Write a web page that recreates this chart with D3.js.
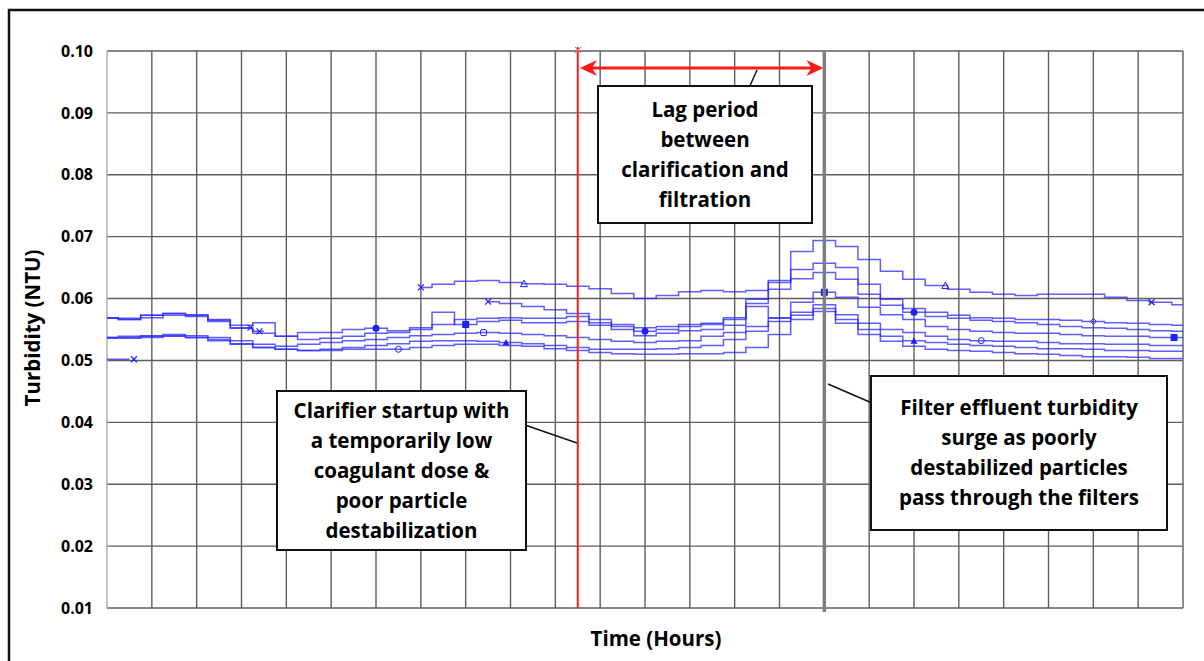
<!DOCTYPE html>
<html>
<head>
<meta charset="utf-8">
<script src="https://cdn.jsdelivr.net/npm/d3@7"></script>
<style>
body{margin:0;background:#fff;}
text{font-family:"Open Sans",Lato,sans-serif;font-weight:bold;fill:#000;}
</style>
</head>
<body>
<svg id="chart" width="1204" height="661"></svg>
<script>
// hours 0..24 every half hour
hours=d3.range(0,24.5,0.5)
yTicks=[0.01,0.02,0.03,0.04,0.05,0.06,0.07,0.08,0.09,0.10]
xGrid=d3.range(0,25,1)

s1=[0.0502,0.0502,null,null,null,null,null,null,null,null,null,null,null,null,
  0.0618,0.0623,0.0628,0.0629,0.0626,0.0624,0.0623,0.0620,0.0616,0.0608,0.0600,0.0605,0.0611,0.0613,0.0611,0.0613,
  0.0629,0.0676,0.0694,0.0684,0.0663,0.0644,0.0631,0.0621,0.0615,0.0610,0.0607,0.0605,0.0607,0.0607,0.0607,0.0602,0.0597,0.0594,0.0590]
s2=[0.0569,0.0566,0.0573,0.0576,0.0573,0.0565,0.0553,0.0547,null,null,null,null,null,null,null,null,null,
  0.0595,0.0592,0.0587,0.0582,0.0576,0.0566,0.0558,0.0553,0.0555,0.0558,0.0560,0.0566,0.0599,0.0626,0.0647,
  0.0657,0.0650,0.0623,0.0599,0.0584,0.0578,0.0573,0.0569,0.0568,0.0566,0.0566,0.0565,0.0563,0.0561,0.0560,0.0558,0.0557]
s3=[0.0569,0.0566,0.0573,0.0576,0.0574,0.0566,0.0557,0.0561,0.0539,0.0545,0.0545,0.0550,0.0552,0.0548,0.0553,0.0558,
  0.0566,0.0568,0.0569,0.0568,0.0568,0.0571,0.0561,0.0555,0.0547,0.0550,0.0555,0.0558,0.0569,0.0592,0.0615,0.0632,
  0.0642,0.0631,0.0607,0.0589,0.0578,0.0571,0.0568,0.0565,0.0563,0.0561,0.0558,0.0555,0.0553,0.0552,0.0550,0.0548,0.0547]
s4=[0.0568,0.0568,0.0569,0.0573,0.0571,0.0563,0.0552,0.0544,0.0539,0.0534,0.0536,0.0539,0.0544,0.0545,0.0550,0.0578,
  0.0558,0.0563,0.0565,0.0561,0.0561,0.0563,0.0557,0.0550,0.0540,0.0544,0.0548,0.0550,0.0557,0.0587,0.0569,0.0594,
  0.0610,0.0602,0.0586,0.0574,0.0566,0.0555,0.0550,0.0547,0.0545,0.0544,0.0544,0.0542,0.0540,0.0539,0.0539,0.0537,0.0537]
s5=[0.0537,0.0539,0.0540,0.0542,0.0540,0.0537,0.0532,0.0526,0.0523,0.0526,0.0529,0.0532,0.0534,0.0537,0.0540,0.0542,
  0.0544,0.0545,0.0544,0.0542,0.0540,0.0537,0.0534,0.0531,0.0529,0.0531,0.0532,0.0539,0.0545,0.0555,0.0568,0.0578,
  0.0590,0.0574,0.0560,0.0550,0.0545,0.0539,0.0534,0.0532,0.0531,0.0531,0.0529,0.0527,0.0527,0.0526,0.0526,0.0524,0.0524]
s6=[0.0537,0.0537,0.0539,0.0540,0.0537,0.0534,0.0527,0.0521,0.0518,0.0516,0.0518,0.0521,0.0524,0.0527,0.0531,0.0532,
  0.0532,0.0531,0.0529,0.0527,0.0524,0.0521,0.0518,0.0518,0.0518,0.0519,0.0521,0.0524,0.0534,0.0547,0.0563,0.0573,
  0.0584,0.0566,0.0550,0.0539,0.0532,0.0529,0.0526,0.0524,0.0523,0.0521,0.0519,0.0519,0.0518,0.0516,0.0516,0.0515,0.0515]
s7=[0.0536,0.0536,0.0537,0.0539,0.0537,0.0532,0.0526,0.0521,0.0518,0.0516,0.0516,0.0518,0.0518,0.0518,0.0521,0.0524,
  0.0526,0.0526,0.0524,0.0523,0.0519,0.0516,0.0513,0.0511,0.0510,0.0510,0.0511,0.0511,0.0513,0.0521,0.0542,0.0566,
  0.0579,0.0560,0.0542,0.0531,0.0523,0.0518,0.0516,0.0515,0.0513,0.0511,0.0510,0.0508,0.0506,0.0506,0.0505,0.0503,0.0503]
series=[s1,s2,s3,s4,s5,s6,s7]

// markers: series index, hour, shape
markers=[
  {s:0,h:0.6,m:"x"},{s:0,h:7,m:"x"},{s:0,h:9.3,m:"tri"},{s:0,h:18.7,m:"tri"},{s:0,h:23.3,m:"x"},
  {s:1,h:3.2,m:"x"},{s:1,h:3.4,m:"x"},{s:1,h:8.5,m:"x"},{s:1,h:22,m:"diam"},
  {s:2,h:6,m:"dot"},{s:2,h:12,m:"dot"},{s:2,h:18,m:"dot"},
  {s:3,h:8,m:"sq"},{s:3,h:16,m:"sq"},{s:3,h:23.8,m:"sq"},
  {s:4,h:8.4,m:"osq"},{s:4,h:19.5,m:"circ"},
  {s:5,h:8.9,m:"ftri"},{s:5,h:18,m:"ftri"},
  {s:6,h:6.5,m:"circ"}
]

var svg=d3.select("#chart")
var plotL=107,plotR=1183,plotT=51,plotB=608
var x=d3.scaleLinear().domain([0,24]).range([plotL,plotR])
var y=d3.scaleLinear().domain([0.01,0.10]).range([plotB,plotT])

// outer frame
svg.append("path").attr("d","M9,661 L9,10 L1204,10").attr("fill","none").attr("stroke","#111").attr("stroke-width",2.5)

// grid
svg.selectAll(".hg").data(yTicks).enter().append("line")
  .attr("x1",plotL).attr("x2",plotR)
  .attr("y1",d=>y(d)).attr("y2",d=>y(d))
  .attr("stroke","#5e5e5e").attr("stroke-width",1.4)
svg.selectAll(".vg").data(xGrid).enter().append("line")
  .attr("x1",d=>x(d)).attr("x2",d=>x(d))
  .attr("y1",y(0.10)).attr("y2",y(0.01))
  .attr("stroke",(d,i)=>i==0?"#aaa":"#5e5e5e").attr("stroke-width",1.4)

// y axis labels
var yAxis=d3.axisLeft(y).tickValues(yTicks).tickFormat(d3.format(".2f")).tickSize(0).tickPadding(14)
var ga=svg.append("g").attr("transform","translate("+plotL+",0)").call(yAxis)
ga.select(".domain").remove()
ga.selectAll("text").style("font-size","16px").style("font-family","'Open Sans',sans-serif").style("font-weight","bold").attr("fill","#000")

// axis titles
svg.append("text").attr("x",656).attr("y",646).attr("text-anchor","middle").style("font-size","20.5px").text("Time (Hours)")
svg.append("text").attr("transform","translate(40,328) rotate(-90)").attr("text-anchor","middle").style("font-size","20.5px").text("Turbidity (NTU)")

// series lines
var line=d3.line().defined(d=>d!=null).x((d,i)=>x(hours[i])).y(d=>y(d)).curve(d3.curveStep)
svg.selectAll(".ser").data(series).enter().append("path")
  .attr("d",d=>line(d)).attr("fill","none")
  .attr("stroke","#2a2aff").attr("stroke-opacity",0.75).attr("stroke-width",1.5)

// markers
function valAt(s,h){return series[s][Math.round(h*2)]}
markers.forEach(function(mk){
  var cx=x(mk.h),cy=y(valAt(mk.s,mk.h)),c="#1f1fff"
  var g=svg.append("g").attr("transform","translate("+cx+","+cy+")")
  if(mk.m=="x"){
    g.append("path").attr("d","M-3,-3L3,3M-3,3L3,-3").attr("stroke",c).attr("stroke-width",1.2)
  } else if(mk.m=="tri"){
    g.append("path").attr("d","M0,-3.5L3.5,3L-3.5,3Z").attr("fill","none").attr("stroke",c).attr("stroke-width",1)
  } else if(mk.m=="ftri"){
    g.append("path").attr("d","M0,-3.5L3.5,3L-3.5,3Z").attr("fill",c)
  } else if(mk.m=="dot"){
    g.append("circle").attr("r",3.5).attr("fill",c)
  } else if(mk.m=="circ"){
    g.append("circle").attr("r",3).attr("fill","none").attr("stroke",c).attr("stroke-width",1)
  } else if(mk.m=="sq"){
    g.append("rect").attr("x",-3.5).attr("y",-3.5).attr("width",7).attr("height",7).attr("fill",c)
  } else if(mk.m=="osq"){
    g.append("rect").attr("x",-3).attr("y",-3).attr("width",6).attr("height",6).attr("rx",1.5).attr("fill","none").attr("stroke",c)
  } else if(mk.m=="diam"){
    g.append("path").attr("d","M0,-3L3,0L0,3L-3,0Z").attr("fill","none").attr("stroke",c)
  }
})

// red clarifier startup line and lag arrow
svg.append("line").attr("x1",x(10.5)).attr("x2",x(10.5)).attr("y1",47).attr("y2",y(0.01))
  .attr("stroke","#ff1a1a").attr("stroke-width",2)
svg.append("path").attr("d","M575,47L581,53M581,47L575,53").attr("stroke","#ff6666").attr("stroke-width",1)
var ay=68,ax1=x(10.55),ax2=x(15.98)
svg.append("line").attr("x1",ax1+10).attr("x2",ax2-10).attr("y1",ay).attr("y2",ay).attr("stroke","#ff1a1a").attr("stroke-width",3)
svg.append("path").attr("d","M"+ax1+","+ay+"l17,-8l-5,8l5,8z").attr("fill","#ff1a1a")
svg.append("path").attr("d","M"+ax2+","+ay+"l-17,-8l5,8l-5,8z").attr("fill","#ff1a1a")

// gray filter line
svg.append("line").attr("x1",x(16)).attr("x2",x(16)).attr("y1",y(0.10)).attr("y2",612)
  .attr("stroke","#7f7f7f").attr("stroke-width",3.5)

// annotation boxes
function box(x0,y0,x1,y1,lines,lx,ly){
  svg.append("line").attr("x1",lx[0]).attr("y1",lx[1]).attr("x2",ly[0]).attr("y2",ly[1]).attr("stroke","#111").attr("stroke-width",1.5)
  svg.append("rect").attr("x",x0).attr("y",y0).attr("width",x1-x0).attr("height",y1-y0)
    .attr("fill","#fff").attr("stroke","#111").attr("stroke-width",2)
  var cx=(x0+x1)/2,n=lines.length,cy=(y0+y1)/2
  lines.forEach(function(t,i){
    svg.append("text").attr("x",cx).attr("y",cy+(i-(n-1)/2)*30+7)
      .attr("text-anchor","middle").style("font-size","20.5px").text(t)
  })
}
box(598,86,812,223,["Lag period","between","clarification and","filtration"],[749,88],[757,70])
box(277,391,526,550,["Clarifier startup with","a temporarily low","coagulant dose &","poor particle","destabilization"],[525,425],[577,443])
box(871,376,1167,530,["Filter effluent turbidity","surge as poorly","destabilized particles","pass through the filters"],[872,403],[828,384])
</script>
</body>
</html>
